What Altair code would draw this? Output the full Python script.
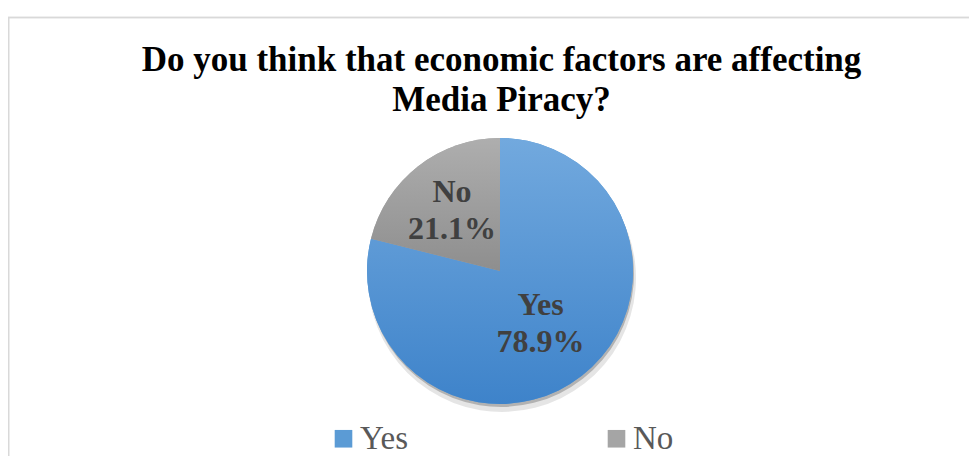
import altair as alt
import pandas as pd

# ---- data ----
categories = ["Yes", "No"]
percentages = [78.9, 21.1]
slice_order = [0, 1]
legend_colors = ["#5b9bd5", "#a5a5a5"]
title_lines = ["Do you think that economic factors are affecting", "Media Piracy?"]

df = pd.DataFrame({"answer": categories, "pct": percentages, "idx": slice_order})

W, H = 961, 448
CX, CY, R = 492, 263, 133
SERIF = "Liberation Serif"

grad_yes = {"gradient": "linear", "x1": 0, "y1": 0, "x2": 0, "y2": 1,
            "stops": [{"offset": 0, "color": "#72a9de"}, {"offset": 1, "color": "#3e83ca"}]}
grad_no = {"gradient": "linear", "x1": 0, "y1": 0, "x2": 0, "y2": 1,
           "stops": [{"offset": 0, "color": "#aeaeae"}, {"offset": 1, "color": "#8e8e8e"}]}

base = alt.Chart(df).encode(
    theta=alt.Theta("pct:Q", stack=True),
    order=alt.Order("idx:Q"),
    x=alt.value(CX),
    y=alt.value(CY),
)

border = alt.Chart(df).mark_rect(fillOpacity=0, stroke="#d9d9d9", strokeWidth=1.6).encode(
    x=alt.value(0.5), x2=alt.value(1200), y=alt.value(9.5), y2=alt.value(1200)
)

shadow1 = base.mark_arc(radius=R + 1, color="#000000", opacity=0.10, xOffset=2, yOffset=7)
shadow2 = base.mark_arc(radius=R, color="#000000", opacity=0.22, xOffset=1, yOffset=3)

pie_legend = base.mark_arc(radius=R).encode(
    color=alt.Color(
        "answer:N",
        sort=categories,
        scale=alt.Scale(domain=categories, range=legend_colors),
        legend=alt.Legend(
            title=None,
            orient="none",
            legendX=319,
            legendY=414,
            direction="horizontal",
            symbolType="square",
            symbolSize=310,
            symbolStrokeWidth=0,
            labelFont=SERIF,
            labelFontSize=33,
            labelColor="#595959",
            labelOffset=0,
            columnPadding=191,
            padding=0,
            labelLimit=300,
        ),
    )
)

pie_grad = base.mark_arc(radius=R).encode(
    color=alt.condition("datum.answer === 'Yes'", alt.value(grad_yes), alt.value(grad_no))
)

labels = alt.Chart(df).transform_window(
    cum="sum(pct)", sort=[alt.SortField("idx")]
).transform_calculate(
    label="datum.answer + '\\n' + format(datum.pct, '.1f') + '%'",
    mid="(datum.cum - datum.pct / 2) / 100 * 2 * PI",
    lr="datum.answer === 'Yes' ? 66 : 78",
).mark_text(
    font=SERIF, fontSize=32, fontWeight="bold", color="#404040",
    lineBreak="\n", lineHeight=37, baseline="middle", align="center", dy=-18,
).encode(
    x=alt.value(CX),
    y=alt.value(CY),
    theta=alt.Theta("mid:Q", scale=None),
    radius=alt.Radius("lr:Q", scale=None),
    text="label:N",
)

chart = alt.layer(border, shadow1, shadow2, pie_legend, pie_grad, labels).properties(
    width=W,
    height=H,
    autosize="none",
    padding=0,
    background="white",
    title=alt.TitleParams(
        title_lines,
        font=SERIF,
        fontSize=35,
        fontWeight="bold",
        color="#000000",
        lineHeight=40,
        anchor="middle",
        baseline="alphabetic",
        offset=-138,
        dx=13,
    ),
).configure_view(stroke=None)

chart.save("out.html", embed_options={"renderer": "svg", "actions": False})
